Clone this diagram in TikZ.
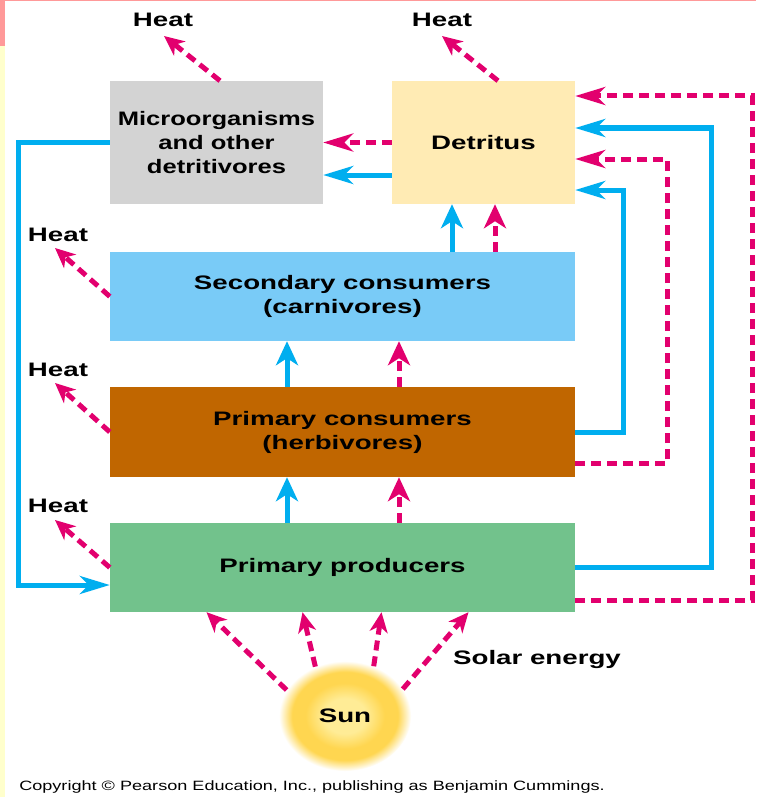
\documentclass[tikz,border=0pt]{standalone}
\usepackage{fontspec}
\newfontfamily\labf{Liberation Sans}[FakeStretch=1.42]
\newfontfamily\labn{Liberation Sans}[FakeStretch=1.31]
\newfontfamily\copyf{Liberation Sans}[FakeStretch=1.34]
\usetikzlibrary{arrows.meta,shapes.geometric}
\definecolor{magc}{RGB}{226,0,110}
\definecolor{bluec}{RGB}{0,174,239}
\definecolor{microc}{RGB}{211,211,211}
\definecolor{detc}{RGB}{255,235,180}
\definecolor{secc}{RGB}{121,203,247}
\definecolor{pcc}{RGB}{192,102,0}
\definecolor{prodc}{RGB}{114,194,140}
\definecolor{pinkc}{RGB}{255,153,153}
\definecolor{yelc}{RGB}{255,255,204}
\definecolor{sunc}{RGB}{255,236,150}
\definecolor{sunm}{RGB}{255,214,80}
\pgfdeclareradialshading{sunglow}{\pgfpoint{0bp}{0bp}}{color(0bp)=(sunc); color(8bp)=(sunc); color(15bp)=(sunm); color(20bp)=(sunm); color(25bp)=(white); color(50bp)=(white)}
\tikzset{
  box/.style={rectangle, inner sep=0pt, align=center, font={\labf\bfseries\fontsize{19.5}{24}\selectfont}},
  lbl/.style={inner sep=0pt, font={\labf\bfseries\fontsize{19.5}{24}\selectfont}},
  bl/.style={draw=bluec, line width=5pt},
  mg/.style={draw=magc, line width=5pt, dash pattern=on 10pt off 6pt},
  htip/.style={-{Stealth[length=30pt,width=18pt,inset=9pt]}},
  vtip/.style={-{Stealth[length=24pt,width=22pt,inset=7pt]}},
  dtip/.style={-{Stealth[length=20pt,width=18pt,inset=6pt]}}
}
\begin{document}
\begin{tikzpicture}[x=1pt,y=-1pt]
\useasboundingbox (0,0) rectangle (756,797);
\fill[white] (0,0) rectangle (756,797);
\fill[pinkc] (0,0) rectangle (756,1.5);
\fill[pinkc] (0,0) rectangle (5,46);
\fill[yelc] (0,46) rectangle (5,797);

% boxes
\node[box, fill=microc, minimum width=213pt, minimum height=123pt, font={\labn\bfseries\fontsize{19.5}{24}\selectfont}] (micro) at (216.5,142.5) {Microorganisms\\and other\\detritivores};
\node[box, fill=detc, minimum width=183pt, minimum height=123pt] (det) at (483.5,142.5) {Detritus};
\node[box, fill=secc, minimum width=465pt, minimum height=89pt] (sec) at (342.5,296.5) {Secondary consumers\\(carnivores)};
\node[box, fill=pcc, minimum width=465pt, minimum height=90pt] (pc) at (342.5,432) {Primary consumers\\(herbivores)};
\node[box, fill=prodc, minimum width=465pt, minimum height=89pt] (prod) at (342.5,567.5) {Primary producers};

% sun
\node[ellipse, shading=sunglow, minimum width=132pt, minimum height=110pt, inner sep=0pt, font={\labf\bfseries\fontsize{19.5}{24}\selectfont}] (sun) at (345,716) {Sun};
\node[lbl] (solar) at (537,659) {Solar energy};
\node[inner sep=0pt, font={\copyf\fontsize{13.5}{16}\selectfont}] (copy) at (312,787) {Copyright \textcopyright{} Pearson Education, Inc., publishing as Benjamin Cummings.};

% heat labels
\node[lbl] (h1) at (163,20) {Heat};
\node[lbl] (h2) at (442,20) {Heat};
\node[lbl] (h3) at (58,235) {Heat};
\node[lbl] (h4) at (58,370) {Heat};
\node[lbl] (h5) at (58,506) {Heat};
\coordinate (h1t) at (164,36);
\coordinate (h2t) at (442,36);
\coordinate (h3t) at (55,248);
\coordinate (h4t) at (55,383);
\coordinate (h5t) at (55,520);
\draw[mg, dtip] ([xshift=3.5pt]micro.north) -- (h1t);
\draw[mg, dtip] ([xshift=14.5pt]det.north) -- (h2t);
\draw[mg, dtip] (sec.west) -- (h3t);
\draw[mg, dtip] (pc.west) -- (h4t);
\draw[mg, dtip] (prod.west) -- (h5t);

% detritus -> micro
\draw[mg, htip] (det.west) -- (micro.east);
\draw[bl, htip] ([yshift=-32.5pt]det.west) -- ([yshift=-32.5pt]micro.east);

% micro -> producers
\coordinate (lc) at (18,585);
\draw[bl, htip] (micro.west) -| (lc) -- ([yshift=-17.5pt]prod.west);

% vertical flows
\coordinate (a1) at ([xshift=-31.5pt]det.south);
\coordinate (a2) at ([xshift=11.5pt]det.south);
\coordinate (b1) at ([xshift=-55.5pt]sec.south);
\coordinate (b2) at ([xshift=56.5pt]sec.south);
\coordinate (c1) at ([xshift=-55.5pt]pc.south);
\coordinate (c2) at ([xshift=56.5pt]pc.south);
\draw[bl, vtip] (a1 |- sec.north) -- (a1);
\draw[mg, vtip] (a2 |- sec.north) -- (a2);
\draw[bl, vtip] (b1 |- pc.north) -- (b1);
\draw[mg, vtip] (b2 |- pc.north) -- (b2);
\draw[bl, vtip] (c1 |- prod.north) -- (c1);
\draw[mg, vtip] (c2 |- prod.north) -- (c2);

% loops to detritus
\draw[bl, htip] (pc.east) -- ++(48,0) |- ([yshift=-47.5pt]det.east);
\draw[mg, htip] ([yshift=-31pt]pc.east) -- ++(92,0) |- ([yshift=-16.5pt]det.east);
\draw[bl, htip] ([yshift=0.5pt]prod.east) -- ++(136,0) |- ([yshift=14.5pt]det.east);
\draw[mg, htip] ([yshift=-32.5pt]prod.east) -- ++(177,0) |- ([yshift=46.5pt]det.east);

% solar energy
\draw[mg, dtip] (sun.156) -- ([xshift=-136pt]prod.south);
\draw[mg, dtip] (sun.121) -- ([xshift=-40pt]prod.south);
\draw[mg, dtip] (sun.60) -- ([xshift=39pt]prod.south);
\draw[mg, dtip] (sun.25) -- ([xshift=126pt]prod.south);
\end{tikzpicture}
\end{document}
